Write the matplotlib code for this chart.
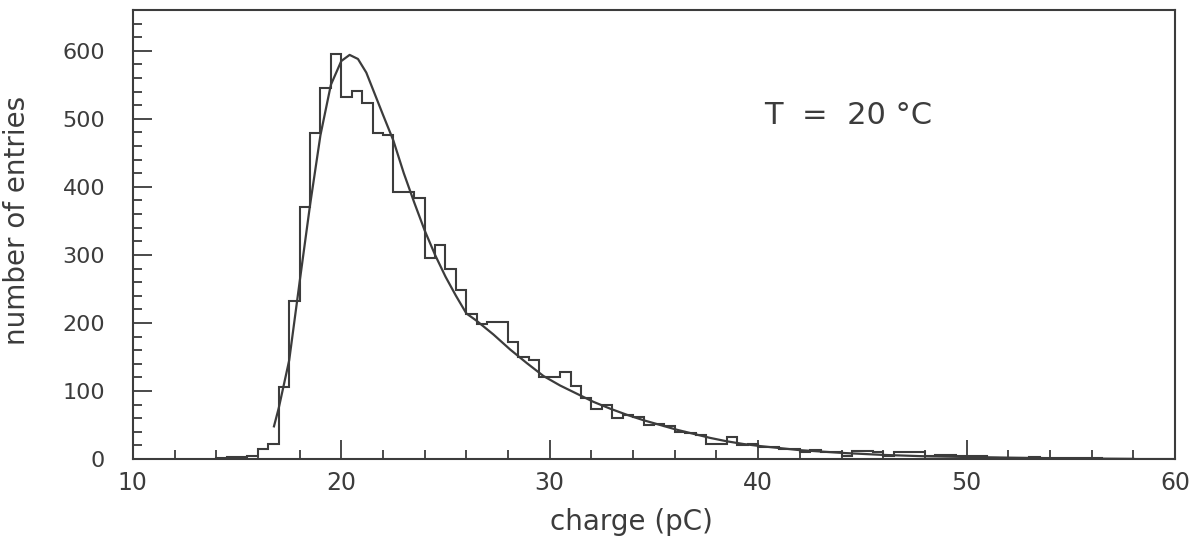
import numpy as np
import matplotlib
matplotlib.use("Agg")
import matplotlib.pyplot as plt
from matplotlib.ticker import MultipleLocator

# histogram: 0.5 pC bins starting at 14 pC
bin_start = 14.0
bin_width = 0.5
counts = [1, 3, 3, 5, 15, 22, 106, 232, 371, 479,
          546, 595, 532, 541, 523, 479, 476, 392, 392, 383,
          295, 314, 279, 248, 213, 198, 202, 202, 172, 150,
          146, 121, 121, 128, 107, 90, 74, 80, 60, 64,
          62, 50, 51, 49, 40, 38, 36, 22, 22, 33,
          21, 22, 18, 18, 15, 15, 11, 13, 10, 10,
          4, 12, 12, 10, 4, 10, 10, 10, 4, 6,
          6, 4, 5, 5, 1, 0, 0, 0, 3, 1,
          1, 1, 2, 2, 1, 0, 0, 0, 0, 0,
          0, 0]

# fitted curve
fit_x = [16.77, 17.0, 17.5, 18.0, 18.5, 19.0, 19.5, 20.0, 20.4, 20.8,
         21.2, 21.6, 22.0, 22.5, 23.0, 23.5, 24.0, 24.5, 25.0, 25.5,
         26.0, 26.5, 27.3, 28.1, 28.9, 29.7, 30.5, 31.3, 32.1, 32.9,
         33.7, 34.5, 35.3, 36.1, 36.9, 37.7, 38.5, 39.3, 40.1, 42.0,
         44.0, 46.0, 48.0, 50.0, 52.0, 54.0, 56.0, 58.0]
fit_y = [48, 75, 145, 260, 373, 476, 550, 585, 594, 588,
         568, 537, 506, 468, 420, 377, 336, 300, 268, 240,
         214, 203, 183, 161, 141, 122, 108, 96, 84, 74,
         65, 57, 50, 43, 37, 31, 26, 22, 19, 13,
         9, 6, 4, 3, 2, 1.2, 0.6, 0.2]

ink = "#3c3c3c"
plt.rcParams['font.family'] = ['DejaVu Sans']

fig = plt.figure(figsize=(11.97, 5.4), dpi=100)
ax = fig.add_axes([0.111, 0.15, 0.8706, 0.8315])

edges = bin_start + bin_width * np.arange(len(counts) + 1)
ax.stairs(counts, edges, color=ink, linewidth=1.5)
ax.plot(fit_x, fit_y, color=ink, linewidth=1.6)

ax.set_xlim(10, 60)
ax.set_ylim(0, 660)
ax.xaxis.set_major_locator(MultipleLocator(10))
ax.xaxis.set_minor_locator(MultipleLocator(2))
ax.yaxis.set_major_locator(MultipleLocator(100))
ax.yaxis.set_minor_locator(MultipleLocator(20))

ax.tick_params(which='both', direction='in', top=False, right=False,
               color=ink, width=1.3, labelcolor=ink)
ax.tick_params(which='major', length=14)
ax.tick_params(which='minor', length=6.5)
ax.tick_params(axis='x', pad=9, labelsize=17)
ax.tick_params(axis='y', pad=20, labelsize=16)
for s in ax.spines.values():
    s.set_color(ink)
    s.set_linewidth(1.5)

ax.set_xlabel("charge (pC)", fontsize=20, color=ink)
ax.set_ylabel("number of entries", fontsize=20, color=ink)
ax.xaxis.set_label_coords(0.478, -0.109)
ax.yaxis.set_label_coords(-0.098, 0.532)

ax.text(40.3, 493, "T  =  20 °C", fontsize=22, color=ink, va='baseline', ha='left')

fig.savefig("out.png", dpi=100)
